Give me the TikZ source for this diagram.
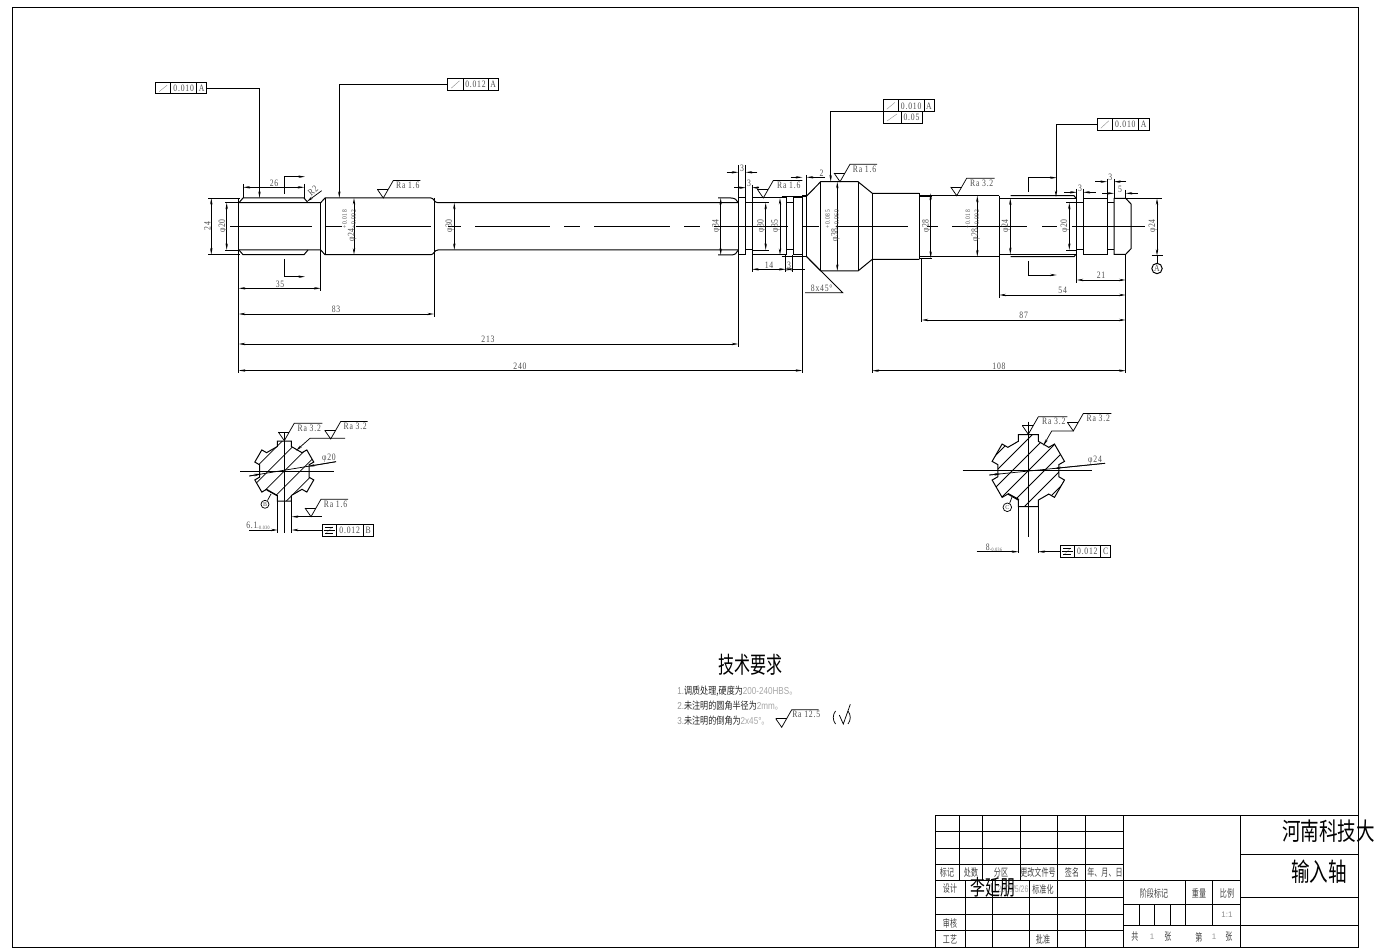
\documentclass[tikz,border=0pt]{standalone}
\usepackage{graphicx}
\usepackage{fontspec}
\setmainfont{Liberation Serif}
\newfontfamily\cadf[LetterSpace=10]{Liberation Serif}
\newfontfamily\cjk{Noto Sans CJK SC}
\newfontfamily\thinf{Liberation Sans}
\usetikzlibrary{arrows.meta}
\definecolor{txtc}{gray}{0.3}
\tikzset{
  ln/.style={line width=.75pt,black},
  thn/.style={line width=.55pt,black},
  arone/.style={thn,-{Stealth[length=5pt,width=1.8pt]}},
  artwo/.style={thn,{Stealth[length=5pt,width=1.8pt]}-{Stealth[length=5pt,width=1.8pt]}},
  dimtxt/.style={inner sep=0,text=txtc,font=\cadf\fontsize{6.8}{7}\selectfont},
  cntxt/.style={inner sep=0,text=black!75,font=\cjk\fontsize{6.6}{7}\selectfont},
}
\newcommand\tx[1]{\scalebox{.85}[1.08]{#1}}
\newcommand\lab[3]{\node[dimtxt] at ({#1},{#2}) {\tx{#3}};}
\newcommand\vlab[3]{\node[dimtxt,rotate=90] at ({#1},{#2}) {\tx{#3}};}
\newcommand\stk[2]{\raisebox{-1pt}{\fontsize{4.8}{4.8}\selectfont\shortstack[l]{#1\\#2}}}
\newcommand\cn[3]{\node[cntxt] at ({#1},{#2}) {\scalebox{.8}[1.2]{#3}};}
\newcommand\ra[4]{%
  \draw[thn] ({#1-6},{#2-8.7}) -- ({#1},{#2}) -- ({#1+10},{#2-17.5}) -- ({#1+#3},{#2-17.5});
  \draw[thn] ({#1-6},{#2-8.7}) -- ({#1+5},{#2-8.7});
  \lab{#1+#3/2+6}{#2-12.8}{#4}}
\newcommand\fcf[8]{%
  \draw[ln] (#1,#5) rectangle (#4,#6);
  \draw[thn] (#2,#5) -- (#2,#6) (#3,#5) -- (#3,#6);
  \draw[line width=.3pt,black!45] ({#1+3.5},{#6-2.5}) -- ({#2-3.5},{#5+2.5});
  \lab{(#2+#3)/2}{(#5+#6)/2}{#7}
  \lab{(#3+#4)/2}{(#5+#6)/2}{#8}}
\newcommand\splpath[3]{([rotate=30]#1,#3) \foreach \a in {30,90,150,210,270,330} { -- ([rotate=\a]#1,#3) -- ([rotate=\a]#2,#3) -- ([rotate=\a]#2,-#3) -- ([rotate=\a]#1,-#3)} -- cycle}
\begin{document}
\begin{tikzpicture}[x=.75pt,y=-.75pt]
\useasboundingbox (0,0) rectangle (1374,952);
\draw[ln] (12,8) rectangle (1358,947);

% ---- shaft centre line
\foreach \p/\q in {230/312,325/342,356/431,448/461,475/550,564/580,594/670,684/700,714/788,802/819,836/908,927/938,952/1027,1042/1057,1072/1145}
  \draw[ln] (\p,226.2) -- (\q,226.2);

% ---- shaft outline, left part
\draw[ln] (239,202.7) -- (320.7,202.7) -- (325,198) -- (431,198) .. controls (434,198) and (434,202.7) .. (438,202.7) -- (738.3,202.7);
\draw[ln] (239,250) -- (320.7,250) -- (325,254.7) -- (431,254.7) .. controls (434,254.7) and (434,250) .. (438,250) -- (738.3,250);
\draw[ln] (239,202.7) -- (243,198) -- (304,198) -- (308,202.7);
\draw[ln] (239,250) -- (243,254.7) -- (304,254.7) -- (308,250);
\draw[ln] (238.7,198) -- (238.7,254.7);
\draw[ln] (320.7,202.7) -- (320.7,250) (325,198) -- (325,254.7) (434,198) -- (434,254.7);
\draw[ln] (718,198) -- (731,198) .. controls (735,198) and (737,200) .. (738.3,202.7);
\draw[ln] (718,255) -- (731,255) .. controls (735,255) and (737,253) .. (738.3,250);
% collars and grooves
\draw[ln] (738.3,198) rectangle (745.7,255);
\draw[ln] (745.7,202.7) -- (752,202.7) (745.7,250) -- (752,250);
\draw[ln] (752,198) rectangle (786,254.3);
\draw[thn] (752,202.7) -- (769,202.7) (752,250) -- (769,250);
\draw[ln] (786,202.7) -- (793,202.7) (786,250) -- (793,250);
\draw[ln] (793,198) rectangle (802.3,255);
\draw[ln] (802.3,196) -- (806.7,196) -- (806.7,256.7) -- (802.3,256.7);
\draw[ln] (806.7,196) -- (820.7,181.7) -- (858,181.7) -- (872.3,193.3) -- (919.3,193.3);
\draw[ln] (806.7,256.7) -- (820.7,271) -- (858,271) -- (872.3,259.3) -- (919.3,259.3);
\draw[ln] (820.7,181.7) -- (820.7,271) (858,181.7) -- (858,271) (872.3,193.3) -- (872.3,259.3) (919.3,193.3) -- (919.3,259.3);
\draw[ln] (919.3,195.7) -- (999.3,195.7) (919.3,256.7) -- (999.3,256.7) (999.3,195.7) -- (999.3,256.7);
\draw[ln] (999.3,198.3) -- (1076,198.3) (999.3,254.3) -- (1076,254.3);
\draw[ln] (1010.7,195.7) -- (1074,195.7) -- (1076,198.3) (1010.7,256.7) -- (1074,256.7) -- (1076,254.3);
\draw[ln] (1076,195.7) -- (1076,256.7);
\draw[ln] (1076,202.7) -- (1083.3,202.7) (1076,250) -- (1083.3,250);
\draw[ln] (1083.3,198.3) rectangle (1107,254.3);
\draw[ln] (1107,202.7) -- (1114,202.7) (1107,250) -- (1114,250);
\draw[ln] (1114,198.3) -- (1125.7,198.3) -- (1131,204) -- (1131,248.7) -- (1125.7,254.3) -- (1114,254.3) -- cycle;

% ---- feature frames and leaders
\fcf{155.7}{170.7}{196.7}{206.7}{82.7}{94}{0.010}{A}
\draw[arone] (206.7,88) -- (259.5,88) -- (259.5,198);
\fcf{447.7}{463}{488}{498.3}{78.3}{90.7}{0.012}{A}
\draw[arone] (447.7,84.5) -- (339.3,84.5) -- (339.3,198);
\fcf{883.3}{898.3}{924}{934}{100}{111.7}{0.010}{A}
\draw[ln] (883.3,111.7) rectangle (922.3,123.3);
\draw[thn] (901,111.7) -- (901,123.3);
\draw[line width=.3pt,black!45] (887,121) -- (897,114);
\lab{911.5}{117.5}{0.05}
\draw[arone] (883.3,111.7) -- (830.7,111.7) -- (830.7,181.7);
\fcf{1097.3}{1112.3}{1138.3}{1149}{118.3}{130.7}{0.010}{A}
\draw[arone] (1097.3,124.5) -- (1056,124.5) -- (1056,197);

% ---- section arrows
\draw[arone] (284.3,194) -- (284.3,176.7) -- (305,176.7);
\draw[arone] (284.3,259) -- (284.3,276.7) -- (305,276.7);
\draw[arone] (1028.3,191.7) -- (1028.3,177.7) -- (1056.7,177.7);
\draw[arone] (1028.3,261) -- (1028.3,275) -- (1056.7,275);

% ---- left dims
\draw[thn] (208,198) -- (240,198) (208,254.7) -- (240,254.7);
\draw[artwo] (211.3,198) -- (211.3,254.7); \vlab{207.3}{226}{24}
\draw[thn] (225,202.7) -- (240,202.7) (225,250) -- (240,250);
\draw[artwo] (226.7,202.7) -- (226.7,250); \vlab{223}{226}{φ20}
\draw[thn] (243.3,184) -- (243.3,198) (304.3,184) -- (304.3,198);
\draw[artwo] (243.3,187.3) -- (304.3,187.3); \lab{274}{183}{26}
\draw[arone] (321.7,190.7) -- (306.7,201.7);
\node[dimtxt,rotate=40] at (313,190.5) {\tx{R2}};
\draw[artwo] (354,198) -- (354,254.7);
\vlab{349.3}{226}{φ24\stk{+0.018}{+0.002}}
\draw[artwo] (454.3,202.7) -- (454.3,250); \vlab{450}{226}{φ30}
\draw[thn] (238.7,254.7) -- (238.7,373) (320.7,250) -- (320.7,291) (434,254.7) -- (434,317) (738.3,198) -- (738.3,347) (802.3,196) -- (802.3,373);
\draw[artwo] (238.7,288.3) -- (320.7,288.3); \lab{280}{284}{35}
\draw[artwo] (238.7,314) -- (434,314); \lab{336}{309.7}{83}
\draw[artwo] (238.7,344) -- (738.3,344); \lab{488}{339.5}{213}
\draw[artwo] (238.7,370.5) -- (802.3,370.5); \lab{520}{366}{240}

% ---- middle dims
\draw[artwo] (720.7,198) -- (720.7,255); \vlab{716.5}{226}{φ34}
\draw[artwo] (765.7,202.7) -- (765.7,250); \vlab{761.3}{226}{φ30}
\draw[thn] (781.7,196) -- (806.7,196) (781.7,256.7) -- (806.7,256.7);
\draw[artwo] (780,198) -- (780,255); \vlab{775.7}{226}{φ35}
\draw[thn] (745.7,165) -- (745.7,198) (738.3,165) -- (738.3,198) (752,185) -- (752,198);
\draw[arone] (726.7,172.3) -- (738.3,172.3); \draw[arone] (757.3,172.3) -- (745.7,172.3); \lab{742}{168}{3}
\draw[arone] (734,187.7) -- (745.7,187.7); \draw[arone] (759.3,187.7) -- (752,187.7); \lab{749}{183.5}{3}
\draw[thn] (752,254.3) -- (752,272) (785.7,254.3) -- (785.7,272) (792.7,255) -- (792.7,272);
\draw[artwo] (752,269.3) -- (785.7,269.3); \lab{769}{265}{14}
\draw[artwo] (785.7,269.3) -- (792.7,269.3); \draw[thn] (792.7,269.3) -- (805,269.3); \lab{789}{265}{3}
\draw[thn] (806.7,175) -- (806.7,196);
\draw[arone] (790.7,177.3) -- (802.3,177.3); \draw[arone] (825,177.3) -- (806.7,177.3); \lab{821.5}{173}{2}
\draw[artwo] (837.3,181.7) -- (837.3,271); \vlab{832.5}{226}{φ38\stk{+0.085}{+0.060}}
\draw[thn] (805,292.7) -- (842.7,292.7) -- (806.7,256.7); \lab{821.7}{288.7}{8x45°}
\draw[thn] (919,196) -- (932,196) (919,258) -- (932,258);
\draw[artwo] (930.7,193.3) -- (930.7,258); \vlab{926.5}{226}{φ28}

% ---- right dims
\draw[artwo] (977.3,195.7) -- (977.3,256.7); \vlab{972.7}{226}{φ28\stk{+0.018}{+0.002}}
\draw[artwo] (1010.3,198.3) -- (1010.3,254.3); \vlab{1006}{226}{φ24}
\draw[thn] (1066,202.7) -- (1076,202.7) (1066,250) -- (1076,250);
\draw[artwo] (1069.3,202.7) -- (1069.3,250); \vlab{1065}{226}{φ20}
\draw[thn] (1126,198.3) -- (1162,198.3);
\draw[artwo] (1157,198.3) -- (1157,255.7); \vlab{1153}{226}{φ24}
\draw[thn] (1076.7,189) -- (1076.7,198) (1083.3,189) -- (1083.3,198) (1107,179) -- (1107,198) (1114,179) -- (1114,198) (1125.7,190) -- (1125.7,198);
\draw[arone] (1064.3,192.3) -- (1076.7,192.3); \draw[arone] (1095.7,192.3) -- (1083.3,192.3); \lab{1080}{188.5}{3}
\draw[arone] (1095,181.7) -- (1107,181.7); \draw[arone] (1126,181.7) -- (1114,181.7); \lab{1110.3}{177.5}{3}
\draw[arone] (1102.3,193.3) -- (1114,193.3); \draw[arone] (1137.7,193.3) -- (1125.7,193.3); \lab{1120}{189}{5}
\draw[thn] (1125.7,254.3) -- (1125.7,373) (1076.7,254) -- (1076.7,283) (999.3,256.7) -- (999.3,298) (921.7,258) -- (921.7,322) (872.3,259.3) -- (872.3,373);
\draw[artwo] (1076.7,280) -- (1125.7,280); \lab{1101}{275.5}{21}
\draw[artwo] (999.3,295) -- (1125.7,295); \lab{1062.7}{290.5}{54}
\draw[artwo] (921.7,320) -- (1125.7,320); \lab{1023.7}{315.5}{87}
\draw[artwo] (872.3,370.7) -- (1125.7,370.7); \lab{999}{366}{108}
% datum
\draw[ln] (1151.7,255.7) -- (1162.7,255.7) (1157,255.7) -- (1157,263.3);
\draw[ln] (1157,268.5) circle (5.2);
\lab{1157}{268.5}{A}

% ---- surface marks on the shaft
\ra{383.3}{198}{37}{Ra 1.6}
\ra{763.3}{198}{39}{Ra 1.6}
\ra{840}{181.7}{37}{Ra 1.6}
\ra{956.7}{195.7}{38}{Ra 3.2}

% ---- left section
\begin{scope}[shift={(284.3,471)}]
  \begin{scope}
    \clip \splpath{24.5}{30}{7};
    \foreach \k in {-5,...,5} \draw[thn] ({-50+\k*16},50) -- ({50+\k*16},-50);
  \end{scope}
  \draw[ln] \splpath{24.5}{30}{7};
\end{scope}
\draw[thn] (240,471) -- (334,471) (284.3,432.7) -- (284.3,533.3);
\draw[thn] (249.3,476) -- (336,461.7);
\draw[arone] (249.3,476) -- (261,474);
\draw[arone] (336,461.7) -- (308,466.4);
\lab{329}{458.5}{φ20}
\ra{284.3}{440.7}{38}{Ra 3.2}
\ra{330.7}{439}{37}{Ra 3.2}
\draw[arone] (345,438.3) -- (310,438.3) -- (296,450.7);
\ra{311}{516.7}{37}{Ra 1.6}
\draw[arone] (321.7,516.7) -- (291.7,516.7);
\draw[thn] (277.7,500.7) -- (277.7,533.3) (291.7,500.7) -- (291.7,533.3);
\draw[arone] (249,530) -- (277.7,530);
\lab{258}{526}{6.1\raisebox{-1pt}{\fontsize{3.5}{4}\selectfont-0.030}}
\draw[arone] (322.3,530) -- (291.7,530);
\fcf{322.3}{336}{363.3}{373.3}{524.3}{536}{0.012}{B}
\draw[ln] (266.7,490) -- (277.7,496);
\draw[thn] (271,494) -- (267.5,500.5);
\draw[thn] (265,504.3) circle (4);
\node[dimtxt,font=\cadf\fontsize{4.5}{5}\selectfont] at (265,504.3) {B};

% ---- right section
\begin{scope}[shift={(1028.3,470.7)}]
  \begin{scope}
    \clip \splpath{29.4}{36}{10};
    \foreach \k in {-5,...,5} \draw[thn] ({-60+\k*16},60) -- ({60+\k*16},-60);
  \end{scope}
  \draw[ln] \splpath{29.4}{36}{10};
\end{scope}
\draw[thn] (962.7,470.7) -- (1091.7,470.7) (1028.3,421.7) -- (1028.3,536.7);
\draw[thn] (989.3,475) -- (1105,463.3);
\draw[arone] (989.3,475) -- (1001,473.8);
\draw[arone] (1105,463.3) -- (1054,468.5);
\lab{1095}{460}{φ24}
\ra{1028.3}{434.3}{39}{Ra 3.2}
\ra{1073.3}{431}{38}{Ra 3.2}
\draw[arone] (1073.3,431) -- (1051.7,431) -- (1043.3,445.7);
\draw[thn] (1018.3,506.7) -- (1018.3,553.3) (1038.3,506.7) -- (1038.3,553.3);
\draw[arone] (976.7,551.7) -- (1018.3,551.7);
\lab{994}{547.5}{8\raisebox{-1pt}{\fontsize{3.5}{4}\selectfont-0.036}}
\draw[arone] (1060,551.7) -- (1038.3,551.7);
\fcf{1060}{1074}{1100.7}{1110.7}{545.7}{557.7}{0.012}{C}
\draw[ln] (1008,493.5) -- (1019,499.5);
\draw[thn] (1012,497) -- (1009.5,503.5);
\draw[thn] (1007.3,507.3) circle (4.3);
\node[dimtxt,font=\cadf\fontsize{4.5}{5}\selectfont] at (1007.3,507.3) {C};
% symmetry symbols
\foreach \x/\y in {329.2/530.2,1067/551.7} \draw[thn] ({\x-4},{\y-3}) -- ({\x+4},{\y-3}) ({\x-5.5},\y) -- ({\x+5.5},\y) ({\x-4},{\y+3}) -- ({\x+4},{\y+3});

% ---- technical notes
\node[inner sep=0,font=\cjk\fontsize{15}{16}\selectfont] at (750,664.5) {\scalebox{.8}[1.15]{技术要求}};
\node[anchor=west,inner sep=0,font=\cjk\fontsize{6.6}{8}\selectfont] at (677,691) {\scalebox{.92}[1.15]{\color{black!40}{\thinf 1.}\color{black!85}调质处理,硬度为\color{black!35}{\thinf 200-240HBS}。}};
\node[anchor=west,inner sep=0,font=\cjk\fontsize{6.6}{8}\selectfont] at (677,705.7) {\scalebox{.92}[1.15]{\color{black!40}{\thinf 2.}\color{black!85}未注明的圆角半径为\color{black!35}{\thinf 2mm}。}};
\node[anchor=west,inner sep=0,font=\cjk\fontsize{6.6}{8}\selectfont] at (677,720.7) {\scalebox{.92}[1.15]{\color{black!40}{\thinf 3.}\color{black!85}未注明的倒角为\color{black!35}{\thinf 2x45°}。}};
\ra{781.7}{727.3}{37}{Ra 12.5}
\draw[thn] (839.3,715) -- (843.3,724) -- (850.3,704.3);
\draw[thn] (835.5,711) .. controls (832.5,715) and (832.5,720) .. (835.5,724);
\draw[thn] (848,711) .. controls (851,715) and (851,720) .. (848,724);

% ---- title block
\draw[ln] (935.7,815) rectangle (1358,947);
\draw[ln] (1123.3,815) -- (1123.3,947) (1240.7,815) -- (1240.7,947);
\foreach \y in {831.7,848.3,864.3,880.7,897.3,914,930.7} \draw[ln] (935.7,\y) -- (1123.3,\y);
\foreach \x in {959.3,982.7,1020,1057.7,1085.7} \draw[ln] (\x,815) -- (\x,880.7);
\foreach \x in {965.3,992.3,1029.3,1057.7,1085.7} \draw[ln] (\x,880.7) -- (\x,947);
\draw[ln] (1123.3,880.7) -- (1240.7,880.7) (1123.3,904.3) -- (1240.7,904.3) (1123.3,925.7) -- (1240.7,925.7);
\draw[ln] (1185,880.7) -- (1185,925.7) (1212.7,880.7) -- (1212.7,925.7);
\draw[ln] (1139,904.3) -- (1139,925.7) (1154.3,904.3) -- (1154.3,925.7) (1170,904.3) -- (1170,925.7);
\draw[ln] (1240.7,854.3) -- (1358,854.3) (1240.7,897.3) -- (1358,897.3) (1240.7,925.7) -- (1358,925.7);

\cn{947}{872.5}{标记}
\cn{971}{872.5}{处数}
\cn{1001}{872.5}{分区}
\cn{1038}{872.5}{更改文件号}
\cn{1072}{872.5}{签名}
\cn{1105}{872.5}{年、月、日}
\cn{950}{889}{设计}
\node[dimtxt,font=\thinf\fontsize{6.5}{7}\selectfont,text=black!35] at (1013,889) {\scalebox{.8}[1.1]{2009/5/26}};
\node[inner sep=0,font=\cjk\fontsize{14}{15}\selectfont] at (993,887.5) {\scalebox{.8}[1.15]{李延朋}};
\cn{1043}{889}{标准化}
\cn{950}{923}{审核}
\cn{950}{939}{工艺}
\cn{1043}{939}{批准}
\cn{1154}{893}{阶段标记}
\cn{1199}{893}{重量}
\cn{1227}{893}{比例}
\node[dimtxt,font=\thinf\fontsize{6}{7}\selectfont,text=black!45] at (1227,915) {1:1};
\cn{1135}{937}{共}
\node[dimtxt,font=\thinf\fontsize{6}{7}\selectfont,text=black!40] at (1152,937) {1};
\cn{1168}{937}{张}
\cn{1199}{937}{第}
\node[dimtxt,font=\thinf\fontsize{6}{7}\selectfont,text=black!40] at (1214,937) {1};
\cn{1229}{937}{张}
\node[inner sep=0,font=\cjk\fontsize{16}{17}\selectfont] at (1328.5,831) {\scalebox{.87}[1.15]{河南科技大}};
\node[inner sep=0,font=\cjk\fontsize{16}{17}\selectfont] at (1319,872) {\scalebox{.87}[1.2]{输入轴}};
\end{tikzpicture}
\end{document}
